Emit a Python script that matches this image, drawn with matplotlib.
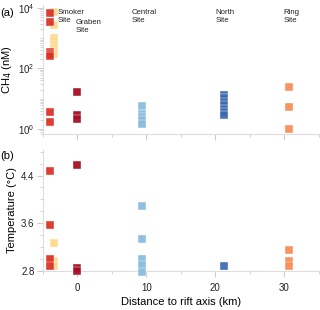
import matplotlib
matplotlib.use("Agg")
import matplotlib.pyplot as plt
import matplotlib.ticker as mticker
import matplotlib.transforms as mtransforms

plt.rcParams['font.family'] = ['Liberation Sans', 'DejaVu Sans']

# ---- data ----
sites = ["Smoker", "Smoker (2)", "Graben", "Central", "North", "Ring"]
colors = ["#DC3228", "#FCD98B", "#A50F24", "#8BBCDD", "#3E6BB0", "#F98D57"]

# distances (km)
x_smoker = -4.0
x_smoker2 = -3.4
x_graben = 0.0
x_central = 9.4
x_north = 21.2
x_ring = 30.6

# CH4 (nM)
ch4_smoker2 = [7100, 2750, 980, 780, 600, 460, 365, 290]
ch4_smoker = [6700, 3400, 357, 300, 250, 3.7, 1.74]
ch4_graben = [16.3, 2.9, 2.1]
ch4_central = [5.9, 3.1, 2.4, 1.9, 1.45]
ch4_north = [13.3, 10.5, 8.0, 6.0, 4.5, 3.5, 2.9]
ch4_ring = [25, 5.1, 1.0]

# Temperature (degC)
t_smoker2 = [3.27, 2.96, 2.87]
t_smoker = [4.47, 3.56, 3.0, 2.87]
t_graben = [4.58, 2.84, 2.80]
t_central = [3.89, 3.33, 3.0, 2.89, 2.78]
t_north = [2.88]
t_ring = [3.15, 2.96, 2.88]

site_names = ["Smoker", "Graben", "Central", "North", "Ring"]
site_label_x = [-2.9, -0.3, 7.9, 20.0, 29.9]
site_label_y = [0.940, 0.863, 0.940, 0.940, 0.940]

xticks_major = [0, 10, 20, 30]

# ---- figure ----
fig = plt.figure(figsize=(3.2, 3.1), dpi=100)
ax1 = fig.add_axes([0.134, 0.568, 0.8625, 0.416])
ax2 = fig.add_axes([0.134, 0.127, 0.8625, 0.389])

grey = "#DDDDDD"
tickcol = "#CCCCCC"

def style(ax):
    for s in ["top", "right"]:
        ax.spines[s].set_visible(False)
    for s in ["left", "bottom"]:
        ax.spines[s].set_color(grey)
        ax.spines[s].set_linewidth(0.8)
    ax.tick_params(which="major", length=4, width=0.8, color=tickcol, labelsize=7,
                   labelcolor="#222222", pad=2)
    ax.tick_params(which="minor", length=2.5, width=0.6, color=tickcol)
    ax.tick_params(axis="x", which="major", pad=5)
    ax.set_xlim(-5, 35)
    ax.xaxis.set_major_locator(mticker.FixedLocator(xticks_major))
    ax.xaxis.set_minor_locator(mticker.FixedLocator([-5, 5, 15, 25, 35]))

ms = 28
def pts(ax, x, ys, c):
    ax.scatter([x] * len(ys), ys, s=ms, marker="s", color=c, edgecolors="white",
               linewidths=0.3, alpha=0.95, zorder=3, clip_on=False)

# panel a
style(ax1)
ax1.set_yscale("log")
ax1.set_ylim(0.68, 12600)
ax1.yaxis.set_major_locator(mticker.FixedLocator([1, 100, 10000]))
ax1.yaxis.set_major_formatter(mticker.LogFormatterMathtext())
ax1.yaxis.set_minor_locator(mticker.LogLocator(base=10, subs=(1, 2, 3, 4, 5, 6, 7, 8, 9), numticks=20))
ax1.yaxis.set_minor_formatter(mticker.NullFormatter())
ax1.tick_params(axis="x", labelbottom=False)
pts(ax1, x_smoker2, ch4_smoker2, colors[1])
pts(ax1, x_smoker, ch4_smoker, colors[0])
pts(ax1, x_graben, ch4_graben, colors[2])
pts(ax1, x_central, ch4_central, colors[3])
pts(ax1, x_north, ch4_north, colors[4])
pts(ax1, x_ring, ch4_ring, colors[5])
ax1.set_ylabel("CH$_4$ (nM)", fontsize=8, labelpad=3)
trans = mtransforms.blended_transform_factory(ax1.transData, ax1.transAxes)
line_gap = 0.064
for name, lx, ly in zip(site_names, site_label_x, site_label_y):
    ax1.text(lx, ly, name, transform=trans, fontsize=5.6, va="center", ha="left",
             color="#222222")
    ax1.text(lx, ly - line_gap, "Site", transform=trans, fontsize=5.6, va="center",
             ha="left", color="#222222")

# panel b
style(ax2)
ax2.set_ylim(2.8, 4.83)
ax2.yaxis.set_major_locator(mticker.FixedLocator([2.8, 3.6, 4.4]))
ax2.yaxis.set_major_formatter(mticker.FormatStrFormatter("%.1f"))
ax2.yaxis.set_minor_locator(mticker.FixedLocator([3.0, 3.2, 3.4, 3.8, 4.0, 4.2, 4.6, 4.8]))
pts(ax2, x_smoker2, t_smoker2, colors[1])
pts(ax2, x_smoker, t_smoker, colors[0])
pts(ax2, x_graben, t_graben, colors[2])
pts(ax2, x_central, t_central, colors[3])
pts(ax2, x_north, t_north, colors[4])
pts(ax2, x_ring, t_ring, colors[5])
ax2.set_ylabel("Temperature (°C)", fontsize=8, labelpad=3)
ax2.set_xlabel("Distance to rift axis (km)", fontsize=8, labelpad=3)

fig.text(0.0, 0.958, "(a)", fontsize=8, ha="left", va="center")
fig.text(0.0, 0.497, "(b)", fontsize=8, ha="left", va="center")

fig.savefig("out.png", dpi=100)
